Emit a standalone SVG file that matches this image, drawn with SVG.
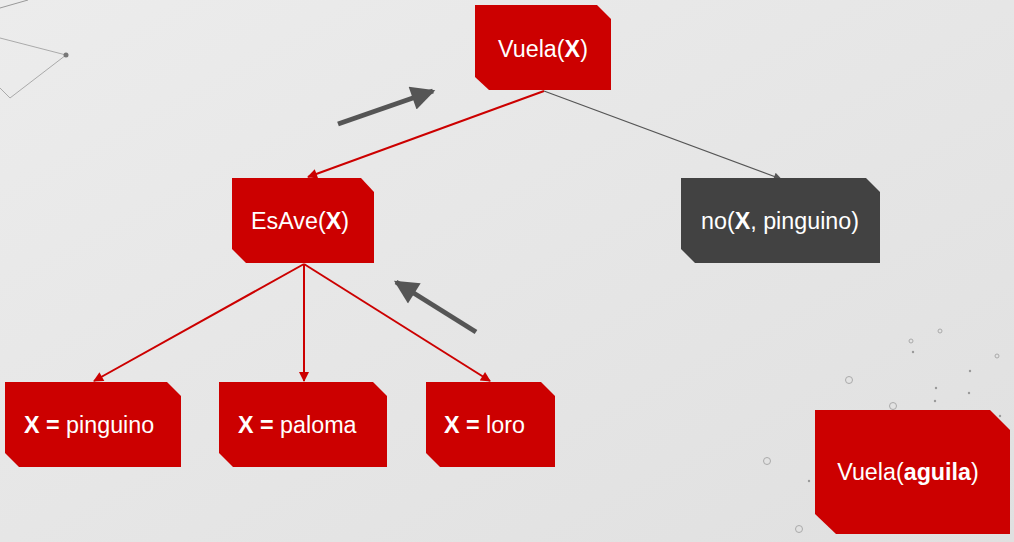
<svg xmlns="http://www.w3.org/2000/svg" width="1014" height="542" viewBox="0 0 1014 542">
<defs>
<linearGradient id="bg" x1="0" y1="0" x2="1" y2="1">
<stop offset="0" stop-color="#ececec"/>
<stop offset="1" stop-color="#e0e0e0"/>
</linearGradient>
<marker id="ar2" viewBox="0 0 10 10" refX="9" refY="5" markerWidth="14" markerHeight="10" orient="auto" markerUnits="userSpaceOnUse">
<path d="M0,0 L10,5 L0,10 z" fill="#cc0000"/>
</marker>
<marker id="ag" viewBox="0 0 10 10" refX="9" refY="5" markerWidth="10" markerHeight="8" orient="auto" markerUnits="userSpaceOnUse">
<path d="M0,0 L10,5 L0,10 z" fill="#555"/>
</marker>
<marker id="big" viewBox="0 0 10 10" refX="9" refY="5" markerWidth="26" markerHeight="24" orient="auto" markerUnits="userSpaceOnUse">
<path d="M0,0 L10,5 L0,10 z" fill="#555"/>
</marker>
</defs>
<style>
.red{fill:#cc0000}
.dark{fill:#424242}
.t{font-family:"Liberation Sans",Arial,sans-serif;font-size:23.3px;fill:#ffffff}
.b{font-weight:bold}
.deco{fill:none;stroke:#aaa;stroke-width:1}
.dot{fill:#999}
.rl{stroke:#cc0000;stroke-width:2;fill:none}
</style>
<rect width="1014" height="542" fill="url(#bg)"/>
<g id="decoration">
<line x1="0" y1="8" x2="28" y2="0" stroke="#999" stroke-width="1"/>
<polyline points="0,38 66,55 10,98 0,88" class="deco" stroke="#c4c4c4"/>
<circle cx="66" cy="55" r="2.5" fill="#777"/>
<circle cx="940" cy="331" r="2" class="deco"/>
<circle cx="911" cy="341" r="2" class="deco"/>
<circle cx="997" cy="356" r="2" class="deco"/>
<circle cx="849" cy="380" r="3.5" class="deco"/>
<circle cx="893" cy="406" r="3.5" class="deco"/>
<circle cx="767" cy="461" r="3.5" class="deco"/>
<circle cx="799" cy="529" r="3.5" class="deco"/>
<circle cx="913" cy="352" r="1.2" class="dot"/>
<circle cx="970" cy="371" r="1.2" class="dot"/>
<circle cx="936" cy="388" r="1.2" class="dot"/>
<circle cx="969" cy="393" r="1.2" class="dot"/>
<circle cx="935" cy="401" r="1.2" class="dot"/>
<circle cx="1000" cy="416" r="1.2" class="dot"/>
<circle cx="809" cy="481" r="1.2" class="dot"/>
</g>
<g id="connectors">
<line x1="544" y1="91" x2="308" y2="177" class="rl" marker-end="url(#ar2)"/>
<line x1="544" y1="91" x2="781" y2="179" stroke="#555" stroke-width="1.2" marker-end="url(#ag)"/>
<line x1="304" y1="264" x2="94" y2="381" class="rl" marker-end="url(#ar2)"/>
<line x1="304" y1="264" x2="304" y2="381" class="rl" marker-end="url(#ar2)"/>
<line x1="304" y1="264" x2="490" y2="381" class="rl" marker-end="url(#ar2)"/>
<line x1="338" y1="124" x2="433" y2="91" stroke="#555" stroke-width="5" marker-end="url(#big)"/>
<line x1="476" y1="332" x2="396" y2="282" stroke="#555" stroke-width="5" marker-end="url(#big)"/>
</g>
<g id="vuela-x">
<polygon class="red" points="475,5 597,5 611,19 611,90 489,90 475,77"/>
<text class="t" x="543" y="57" text-anchor="middle">Vuela(<tspan class="b">X</tspan>)</text>
</g>
<g id="esave">
<polygon class="red" points="232,178 361,178 374,192 374,263 246,263 232,249"/>
<text class="t" x="300" y="229" text-anchor="middle">EsAve(<tspan class="b">X</tspan>)</text>
</g>
<g id="no-pinguino">
<polygon class="dark" points="681,178 866,178 880,192 880,263 695,263 681,249"/>
<text class="t" x="780" y="229" text-anchor="middle">no(<tspan class="b">X</tspan>, pinguino)</text>
</g>
<g id="x-pinguino">
<polygon class="red" points="5,382 167,382 181,396 181,467 19,467 5,453"/>
<text class="t" x="24" y="433"><tspan class="b">X =</tspan> pinguino</text>
</g>
<g id="x-paloma">
<polygon class="red" points="219,382 373,382 387,396 387,467 233,467 219,453"/>
<text class="t" x="238" y="433"><tspan class="b">X =</tspan> paloma</text>
</g>
<g id="x-loro">
<polygon class="red" points="426,382 541,382 555,396 555,467 440,467 426,453"/>
<text class="t" x="444" y="433"><tspan class="b">X =</tspan> loro</text>
</g>
<g id="vuela-aguila">
<polygon class="red" points="815,410 990,410 1010,430 1010,534 836,534 815,514"/>
<text class="t" x="908" y="480" text-anchor="middle">Vuela(<tspan class="b">aguila</tspan>)</text>
</g>
</svg>
